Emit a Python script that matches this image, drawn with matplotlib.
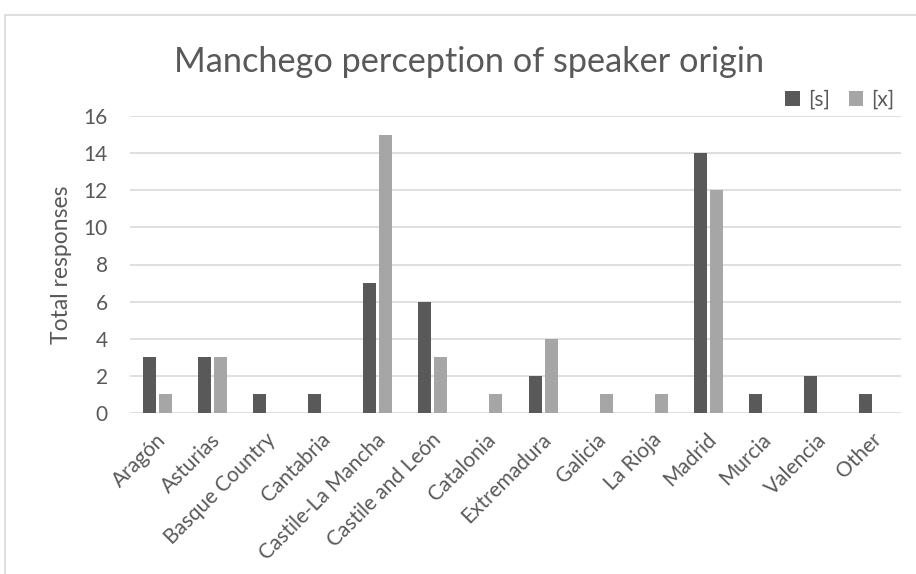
import matplotlib.pyplot as plt
import matplotlib.transforms as mtransforms
import numpy as np
from matplotlib.patches import Rectangle

regions = [
    "Aragón", "Asturias", "Basque Country", "Cantabria", "Castile-La Mancha",
    "Castile and León", "Catalonia", "Extremadura", "Galicia", "La Rioja",
    "Madrid", "Murcia", "Valencia", "Other",
]
s_counts = [3, 3, 1, 1, 7, 6, 0, 2, 0, 0, 14, 1, 2, 1]
x_counts = [1, 3, 0, 0, 15, 3, 1, 4, 1, 1, 12, 0, 0, 0]

TEXT = "#595959"
DARK = "#595959"
LIGHT = "#A6A6A6"
GRID = "#D9D9D9"

plt.rcParams["font.family"] = ["Lato", "DejaVu Sans"]

fig = plt.figure(figsize=(9.16, 5.74), dpi=100)
ax = fig.add_axes([130 / 916, 1 - 413 / 574, 771 / 916, 297 / 574])

# chart-area border (runs off the right/bottom edge in the reference)
fig.patches.append(Rectangle((5 / 916, -0.1), 1.1, 1 - 15 / 574 + 0.1,
                             transform=fig.transFigure, fill=False,
                             edgecolor=GRID, linewidth=1.2))

x = np.arange(len(regions))
w = 0.236
off = (w + 0.055) / 2
ax.bar(x - off, s_counts, width=w, color=DARK, label="[s]", zorder=3)
ax.bar(x + off, x_counts, width=w, color=LIGHT, label="[x]", zorder=3)

ax.set_xlim(-0.5, len(regions) - 0.5)
ax.set_ylim(0, 16)
ax.set_yticks(range(0, 17, 2))
ax.grid(True, axis="y", color=GRID, linewidth=1.2, zorder=0)
for sp in ax.spines.values():
    sp.set_visible(False)
ax.tick_params(axis="both", length=0, colors=TEXT, labelsize=15)
ax.tick_params(axis="y", pad=16)
ax.tick_params(axis="x", pad=17)
ax.set_xticks(x)
ax.set_xticklabels(regions, rotation=45, ha="right", va="center",
                   rotation_mode="anchor")
shift = mtransforms.ScaledTranslation(5 / 100, 0, fig.dpi_scale_trans)
for lbl in ax.get_xticklabels():
    lbl.set_transform(lbl.get_transform() + shift)
ax.set_ylabel("Total responses", color=TEXT, fontsize=16.5, labelpad=8)

fig.text(469 / 916, 1 - 62 / 574, "Manchego perception of speaker origin",
         ha="center", va="center", color=TEXT, fontsize=24.7)

ax.legend(loc="lower right", bbox_to_anchor=(1.0, 1.0), ncol=2, frameon=False,
          fontsize=15, labelcolor=TEXT, handlelength=0.7, handleheight=0.7,
          handletextpad=0.4, columnspacing=0.9, borderaxespad=0.1,
          borderpad=0.2)

fig.savefig("out.png", dpi=100)
